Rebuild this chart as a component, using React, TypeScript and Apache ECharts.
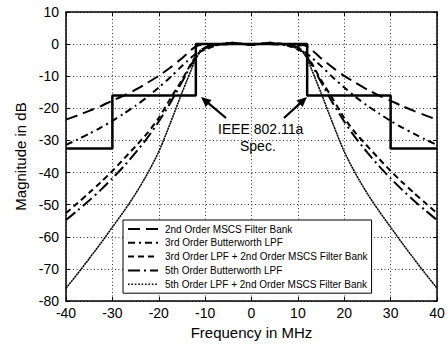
import React, { useEffect, useRef } from "react";
import * as echarts from "echarts";

const FONT = "'Liberation Sans', Arial, Helvetica, sans-serif";

// Frequency sample points (MHz)
const freqMHz = [
  -40, -37.5, -35, -32.5, -30, -27.5, -25, -22.5, -20, -17.5, -15, -14, -13, -12, -11, -10,
  -8, -6, -4, -2, 0, 2, 4, 6, 8,
  10, 11, 12, 13, 14, 15, 17.5, 20, 22.5, 25, 27.5, 30, 32.5, 35, 37.5, 40,
];

// 2nd Order MSCS Filter Bank (dB)
const mscs2 = [
  -23.5, -22.2, -20.8, -19.3, -17.6, -16.0, -14.2, -12.1, -9.9, -7.3, -4.4, -3.1, -1.8, -0.8, -0.3, -0.5,
  -0.2, 0.2, 0.4, 0.1, -0.3, 0.1, 0.4, 0.2, -0.2,
  -0.5, -0.3, -0.8, -1.8, -3.1, -4.4, -7.3, -9.9, -12.1, -14.2, -16.0, -17.6, -19.3, -20.8, -22.2, -23.5,
];

// 3rd Order Butterworth LPF (dB)
const bw3 = [
  -31.4, -29.7, -27.9, -26.0, -23.9, -21.6, -19.2, -16.5, -13.5, -10.3, -6.8, -5.5, -4.2, -3.0, -2.0, -1.2,
  -0.4, -0.1, 0, 0, 0, 0, 0, -0.1, -0.4,
  -1.2, -2.0, -3.0, -4.2, -5.5, -6.8, -10.3, -13.5, -16.5, -19.2, -21.6, -23.9, -26.0, -27.9, -29.7, -31.4,
];

// 3rd Order LPF + 2nd Order MSCS Filter Bank (dB)
const lpf3Mscs2 = [
  -52.6, -49.5, -46.3, -43.0, -39.5, -35.7, -31.8, -27.8, -23.0, -17.0, -11.2, -8.6, -6.0, -3.8, -2.3, -1.7,
  -0.6, 0.1, 0.4, 0.1, -0.3, 0.1, 0.4, 0.1, -0.6,
  -1.7, -2.3, -3.8, -6.0, -8.6, -11.2, -17.0, -23.0, -27.8, -31.8, -35.7, -39.5, -43.0, -46.3, -49.5, -52.6,
];

// 5th Order Butterworth LPF (dB)
const bw5 = [
  -54.8, -51.8, -48.7, -45.4, -41.8, -38.0, -33.8, -29.3, -24.1, -18.3, -11.8, -9.1, -6.4, -4.0, -2.1, -1.0,
  -0.1, 0, 0, 0, 0, 0, 0, 0, -0.1,
  -1.0, -2.1, -4.0, -6.4, -9.1, -11.8, -18.3, -24.1, -29.3, -33.8, -38.0, -41.8, -45.4, -48.7, -51.8, -54.8,
];

// 5th Order LPF + 2nd Order MSCS Filter Bank (dB)
const lpf5Mscs2 = [
  -76.0, -71.5, -66.8, -62.0, -57.0, -52.0, -46.6, -40.5, -33.5, -24.6, -15.2, -11.6, -8.0, -4.6, -2.4, -1.5,
  -0.3, 0.2, 0.4, 0.1, -0.3, 0.1, 0.4, 0.2, -0.3,
  -1.5, -2.4, -4.6, -8.0, -11.6, -15.2, -24.6, -33.5, -40.5, -46.6, -52.0, -57.0, -62.0, -66.8, -71.5, -76.0,
];

// IEEE 802.11a spectral mask
const maskFreq = [-40, -30, -30, -12, -12, 12, 12, 30, 30, 40];
const maskLevel = [-32.5, -32.5, -16, -16, 0, 0, -16, -16, -32.5, -32.5];

const seriesNames = [
  "2nd Order MSCS Filter Bank",
  "3rd Order Butterworth LPF",
  "3rd Order LPF + 2nd Order MSCS Filter Bank",
  "5th Order Butterworth LPF",
  "5th Order LPF + 2nd Order MSCS Filter Bank",
];

const annotationLines = ["IEEE 802.11a", "Spec."];

export default function App() {
  const ref = useRef<HTMLDivElement>(null);

  useEffect(() => {
    const chart = echarts.init(ref.current!, null, { renderer: "svg" });
    const pairs = (xs: number[], ys: number[]) => xs.map((f, i) => [f, ys[i]]);
    const mk = (name: string, ys: number[], type: any, width: number) => ({
      name,
      type: "line",
      data: pairs(freqMHz, ys),
      symbol: "none",
      smooth: 0.25,
      lineStyle: { color: "#000", width, type },
      itemStyle: { color: "#000" },
      z: 3,
    });

    const axisLine = { show: true, onZero: false, lineStyle: { color: "#000", width: 1.5 } };
    const axisTick = { show: true, inside: true, length: 4, lineStyle: { color: "#000", width: 1 } };
    const splitLine = { show: true, lineStyle: { color: "#333", type: [1, 2.5], width: 1 } };

    const arrow = (tx: number, ty: number, hx: number, hy: number) => {
      const dx = hx - tx;
      const dy = hy - ty;
      const L = Math.sqrt(dx * dx + dy * dy);
      const ux = dx / L;
      const uy = dy / L;
      const bx = hx - ux * 10;
      const by = hy - uy * 10;
      const px = -uy * 4.5;
      const py = ux * 4.5;
      return [
        {
          type: "line",
          shape: { x1: tx, y1: ty, x2: bx + ux * 2, y2: by + uy * 2 },
          style: { stroke: "#000", lineWidth: 2.2 },
          z: 10,
        },
        {
          type: "polygon",
          shape: { points: [[hx, hy], [bx + px, by + py], [bx - px, by - py]] },
          style: { fill: "#000" },
          z: 10,
        },
      ];
    };

    const legendData = seriesNames.map((name, i) =>
      i === 4 ? { name, lineStyle: { type: [1.6, 1.8], width: 1.6 } } : { name }
    );

    chart.setOption({
      animation: false,
      backgroundColor: "#fff",
      textStyle: { fontFamily: FONT },
      grid: { left: 66, right: 11, top: 12, bottom: 44, containLabel: false },
      legend: {
        data: legendData,
        orient: "vertical",
        left: 123,
        top: 220,
        itemWidth: 30,
        itemHeight: 10,
        itemGap: 3.8,
        padding: [4, 4, 4, 4],
        backgroundColor: "#fff",
        borderColor: "#000",
        borderWidth: 1,
        borderRadius: 0,
        itemStyle: { opacity: 0 },
        textStyle: { color: "#000", fontSize: 10, fontFamily: FONT, padding: [0, 0, 0, 2] },
        selectedMode: false,
        z: 20,
      },
      xAxis: [
        {
          type: "value",
          min: -40,
          max: 40,
          interval: 10,
          axisLine,
          axisTick,
          splitLine,
          axisLabel: { color: "#000", fontSize: 14, fontFamily: FONT, margin: 5 },
          name: "Frequency in MHz",
          nameLocation: "middle",
          nameGap: 24,
          nameTextStyle: { color: "#000", fontSize: 15, fontFamily: FONT },
        },
        {
          type: "value",
          position: "top",
          min: -40,
          max: 40,
          interval: 10,
          axisLine,
          axisTick,
          splitLine: { show: false },
          axisLabel: { show: false },
        },
      ],
      yAxis: [
        {
          type: "value",
          min: -80,
          max: 10,
          interval: 10,
          axisLine,
          axisTick,
          splitLine,
          axisLabel: { color: "#000", fontSize: 14, fontFamily: FONT, margin: 7 },
          name: "Magnitude in dB",
          nameLocation: "middle",
          nameGap: 32,
          nameTextStyle: { color: "#000", fontSize: 15, fontFamily: FONT },
        },
        {
          type: "value",
          position: "right",
          min: -80,
          max: 10,
          interval: 10,
          axisLine,
          axisTick,
          splitLine: { show: false },
          axisLabel: { show: false },
        },
      ],
      series: [
        {
          name: "IEEE 802.11a Spec.",
          type: "line",
          data: pairs(maskFreq, maskLevel),
          symbol: "none",
          lineStyle: { color: "#000", width: 2.5, type: "solid" },
          z: 4,
        },
        mk(seriesNames[0], mscs2, [12, 6], 2),
        mk(seriesNames[1], bw3, [7, 4, 2, 4], 2),
        mk(seriesNames[2], lpf3Mscs2, [6, 4], 2),
        mk(seriesNames[3], bw5, [12, 4, 2, 4], 2),
        mk(seriesNames[4], lpf5Mscs2, [2.2, 0.5], 1.5),
      ],
      graphic: [
        {
          type: "text",
          left: 218,
          top: 122,
          style: { text: annotationLines[0], fill: "#000", font: `14px ${FONT}` },
          z: 10,
        },
        {
          type: "text",
          left: 240,
          top: 139,
          style: { text: annotationLines[1], fill: "#000", font: `14px ${FONT}` },
          z: 10,
        },
        ...arrow(226, 118, 201, 97),
        ...arrow(284, 118, 307, 97),
      ],
    });
    return () => chart.dispose();
  }, []);

  return (
    <div
      ref={ref}
      style={{ position: "absolute", left: 0, top: 0, width: 448, height: 345, background: "#fff" }}
    />
  );
}
